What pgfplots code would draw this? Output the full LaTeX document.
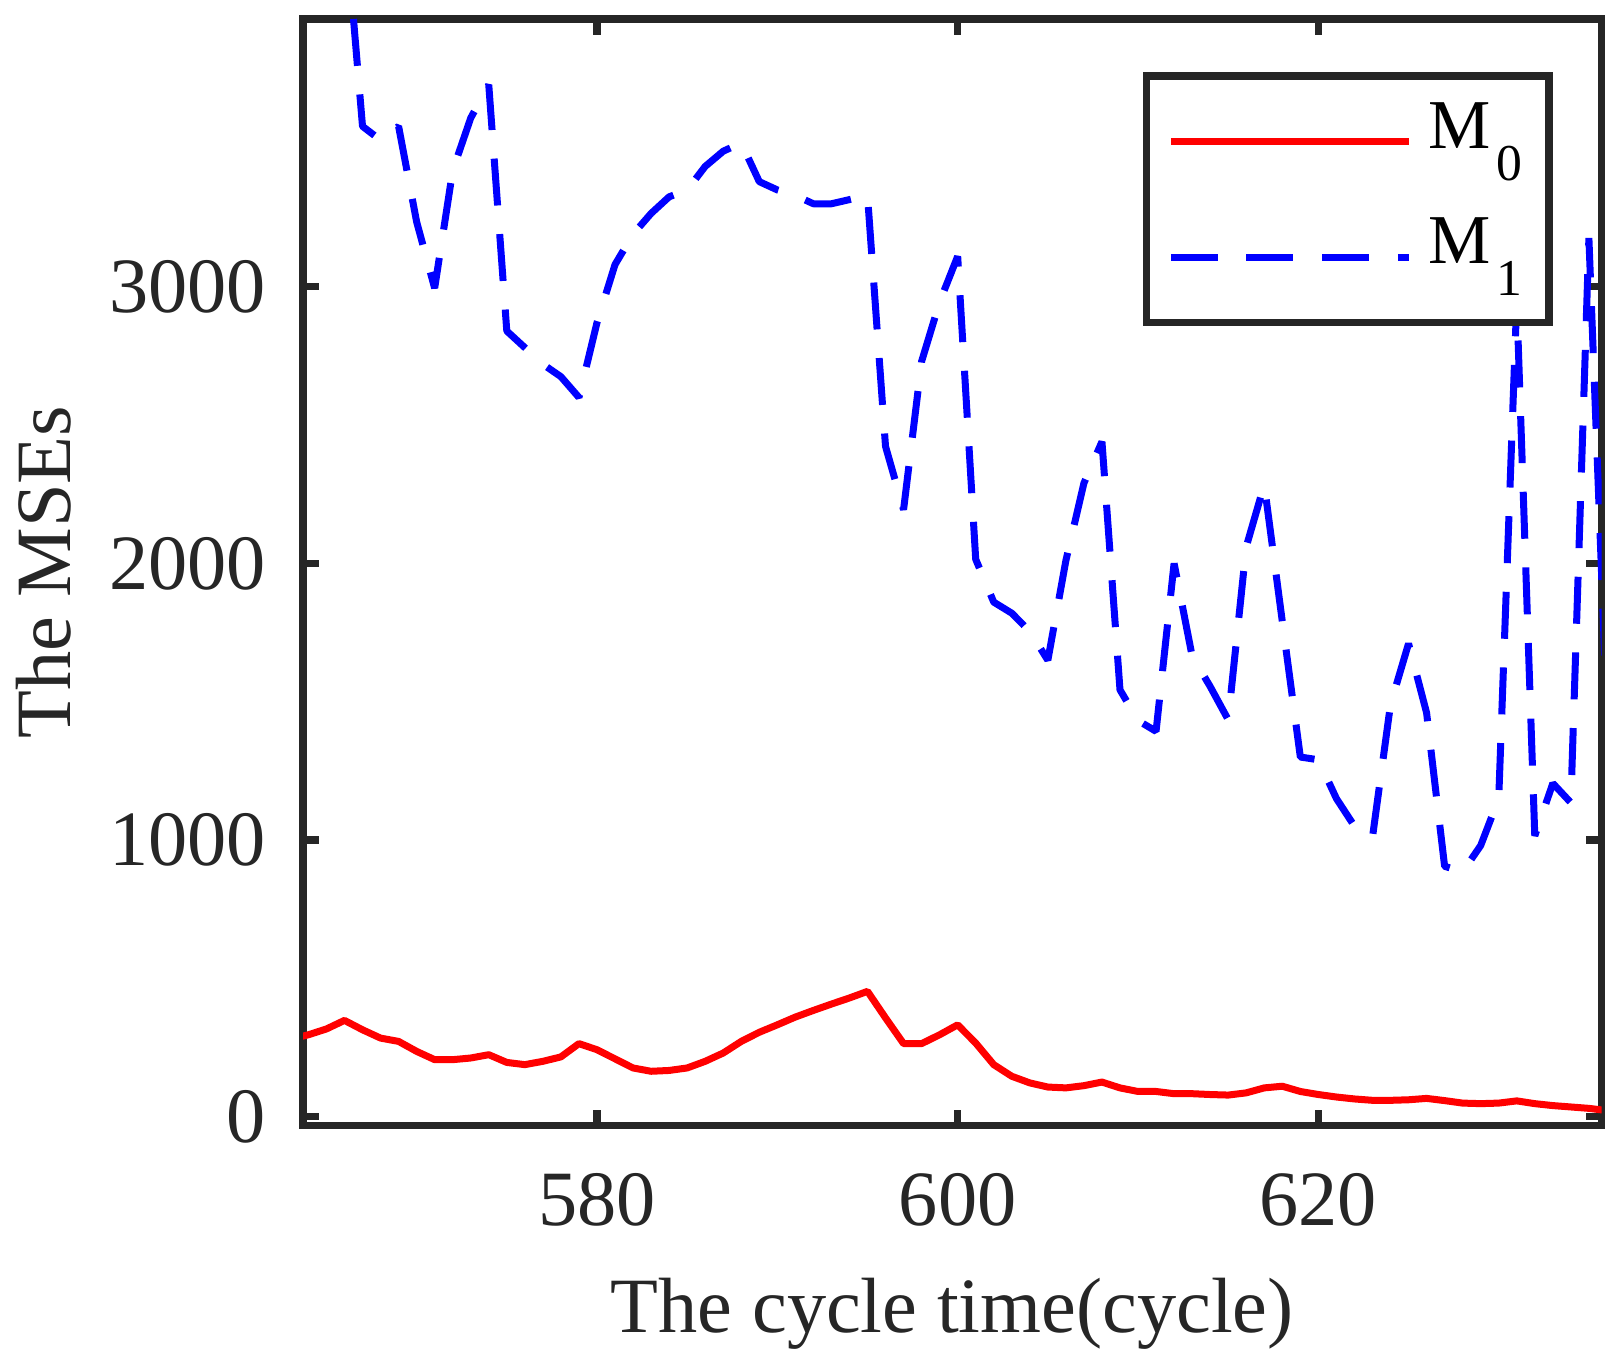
\documentclass[border=0pt]{standalone}
\usepackage{fontspec}
\setmainfont{Liberation Serif}
\usepackage{pgfplots}
\pgfplotsset{compat=1.18}
\usetikzlibrary{calc}
\definecolor{axgray}{RGB}{38,38,38}
\definecolor{mred}{RGB}{255,0,0}
\definecolor{mblue}{RGB}{0,0,255}
\newcommand{\sub}[1]{\kern1.5pt\raisebox{-9.6pt}{\fontsize{15.5}{16}\selectfont #1}\kern1.9pt}
\begin{document}
\begin{tikzpicture}
\begin{axis}[name=ax,
  scale only axis, width=389.55pt, height=331.95pt,
  xmin=563.7, xmax=635.7, ymin=-32, ymax=3968,
  xtick={580,600,620}, ytick={0,1000,2000,3000},
  tick align=inside, major tick length=4.8pt,
  axis line style={line width=2.2pt, draw=axgray},
  every tick/.style={line width=2.2pt, draw=axgray},
  tick label style={font=\fontsize{23.5}{28}\selectfont, text=axgray},
  /pgf/number format/assume math mode=true,
  scaled ticks=false, /pgf/number format/1000 sep={},
  xticklabel style={yshift=-10.7pt},
  yticklabel style={xshift=-7.6pt},
  xlabel={The cycle time(cycle)}, ylabel={The MSEs},
  label style={font=\fontsize{23.5}{28}\selectfont, text=axgray},
  xlabel style={at={(axis description cs:0.5,-0.1875)}, anchor=base},
  ylabel style={at={(axis description cs:-0.179,0.5)}, anchor=base},
  legend style={at={(axis description cs:0.9624,0.9517)}, anchor=north east,
    draw=axgray, line width=2.2pt, fill=white,
    inner xsep=6.2pt, inner ysep=2.4pt, row sep=0pt, column sep=5pt,
    font=\fontsize{21}{25}\selectfont,
    nodes={inner xsep=0pt, inner ysep=5.75pt, text height=13.5pt, text depth=9.6pt, text=black}},
  legend cell align=left,
  legend image code/.code={\draw[#1, dash phase=0pt] (0pt,0pt) -- (71.4pt,0pt);},
]
\addplot[mred, line width=2.1pt, line join=bevel] coordinates {
(563,280) (564,296) (565,317) (566,348) (567,314) (568,284) (569,272) (570,236)
(571,206) (572,206) (573,212) (574,224) (575,196) (576,188) (577,200) (578,216)
(579,264) (580,242) (581,209) (582,176) (583,164) (584,167) (585,176) (586,200)
(587,230) (588,272) (589,305) (590,332) (591,360) (592,384) (593,407) (594,429)
(595,453) (596,357) (597,264) (598,264) (599,296) (600,332) (601,266) (602,188)
(603,146) (604,122) (605,107) (606,104) (607,112) (608,125) (609,104) (610,91)
(611,91) (612,83) (613,83) (614,80) (615,78) (616,86) (617,104) (618,110)
(619,91) (620,80) (621,71) (622,64) (623,59) (624,59) (625,61) (626,66)
(627,58) (628,49) (629,47) (630,49) (631,57) (632,47) (633,40) (634,35)
(635,30) (636,22)
};
\addlegendentry{M\sub{0}}
\addplot[mblue, line width=2.1pt, line join=bevel, dash pattern=on 14.1pt off 8.6pt, dash phase=10.38pt] coordinates {
(563,4900) (564,4750) (565,4600) (566,4355) (567,3580) (568,3530) (569,3580) (570,3235)
(571,2995) (572,3420) (573,3610) (574,3730) (575,2840) (576,2780) (577,2720) (578,2675)
(579,2600) (580,2870) (581,3080) (582,3190) (583,3265) (584,3325) (585,3350) (586,3435)
(587,3490) (588,3520) (589,3380) (590,3350) (591,3330) (592,3300) (593,3300) (594,3315)
(595,3330) (596,2423) (597,2194) (598,2730) (599,2945) (600,3110) (601,2015) (602,1860)
(603,1820) (604,1754) (605,1650) (606,2010) (607,2290) (608,2440) (609,1543) (610,1432)
(611,1393) (612,2000) (613,1665) (614,1555) (615,1435) (616,2060) (617,2285) (618,1790)
(619,1300) (620,1290) (621,1150) (622,1050) (623,1010) (624,1490) (625,1710) (626,1460)
(627,905) (628,885) (629,980) (630,1150) (631,2950) (632,1015) (633,1205) (634,1135)
(635,3176) (636,1450)
};
\addlegendentry{M\sub{1}}
\end{axis}
\pgfresetboundingbox
\path[use as bounding box] ($(ax.south west)+(-90.9pt,-72.45pt)$) rectangle ($(ax.north east)+(6.15pt,5.7pt)$);
\end{tikzpicture}
\end{document}
